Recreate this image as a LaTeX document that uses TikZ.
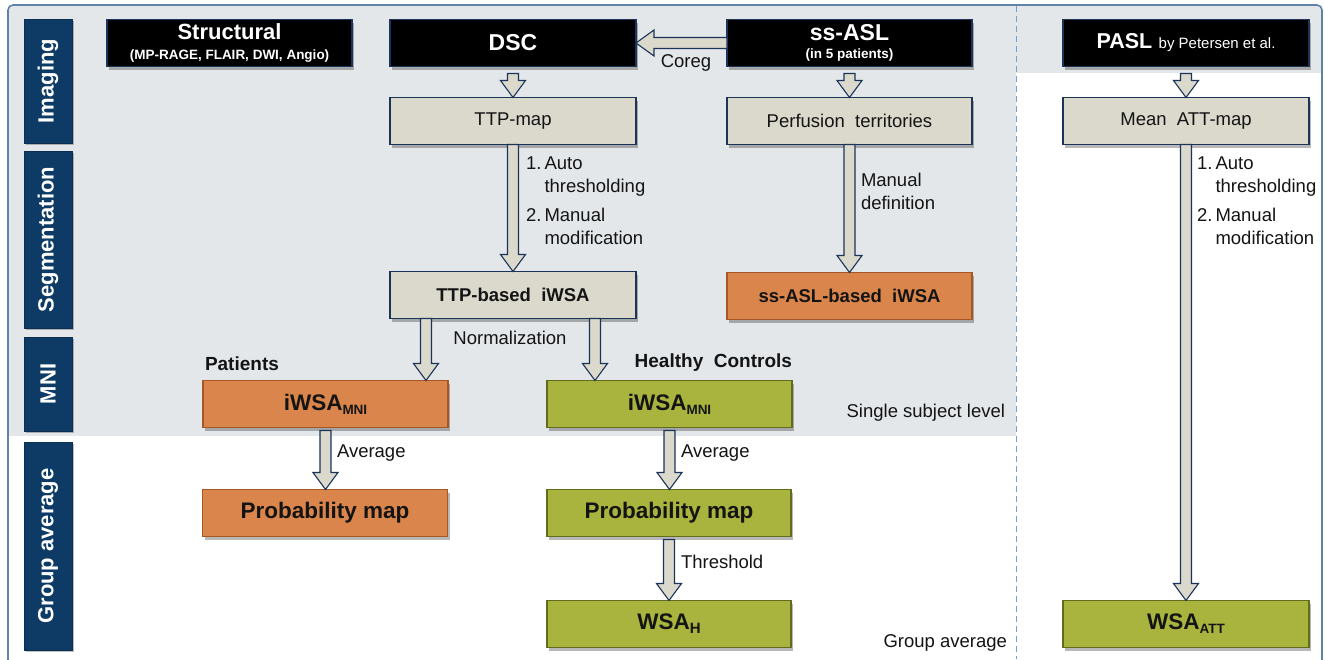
\documentclass[tikz,border=0pt]{standalone}
\usepackage{fontspec}
\setmainfont{Liberation Sans}
\usetikzlibrary{calc,shadows}
\newcommand{\fsz}[1]{\fontsize{#1}{#1}\selectfont}
\definecolor{bggray}{RGB}{228,231,234}
\definecolor{framecol}{RGB}{95,130,170}
\definecolor{dashcol}{RGB}{120,160,205}
\definecolor{sideblue}{RGB}{14,59,102}
\definecolor{navyb}{RGB}{28,52,90}
\definecolor{beige}{RGB}{219,216,204}
\definecolor{orangef}{RGB}{218,133,76}
\definecolor{oranged}{RGB}{165,88,38}
\definecolor{greenf}{RGB}{169,180,63}
\definecolor{greend}{RGB}{98,108,28}
\definecolor{txt}{RGB}{20,20,20}
\tikzset{
  box/.style={rectangle, minimum width=246pt, minimum height=47pt, inner sep=0pt, outer sep=0pt,
    line width=1.2pt, text=txt, align=center,
    drop shadow={shadow xshift=2pt, shadow yshift=-3pt, opacity=0.28, fill=black}},
  blackbox/.style={box, fill=black, draw=navyb, text=white, font={\fsz{23}\bfseries}},
  beigebox/.style={box, fill=beige, draw=navyb, font={\fsz{18.5}}},
  beigebold/.style={box, fill=beige, draw=navyb, font={\fsz{18.5}\bfseries}},
  orbox/.style={box, fill=orangef, draw=oranged, font={\fsz{22.5}\bfseries}},
  grbox/.style={box, fill=greenf, draw=greend, font={\fsz{22.5}\bfseries}},
  side/.style={rectangle, fill=sideblue, draw=sideblue!80!black, line width=0.6pt, minimum height=48pt, inner sep=0pt,
    text=white, font={\fsz{22}\bfseries}, rotate=90,
    drop shadow={shadow xshift=2pt, shadow yshift=-2pt, opacity=0.25, fill=black}},
  lbl/.style={inner sep=0pt, outer sep=0pt, text=txt, font={\fsz{18.5}}},
  boldlbl/.style={inner sep=0pt, outer sep=0pt, text=txt, font={\fsz{19}\bfseries}},
  barrow/.style={draw=navyb, fill=beige, line width=1.1pt, line join=miter}
}
\newcommand{\vblock}[2]{\path[barrow] let \p1=(#1), \p2=(#2) in
  (\x1-5.5pt,\y1) -- (\x1-5.5pt,\y2+17pt) -- (\x1-12.5pt,\y2+17pt) -- (\x1,\y2)
  -- (\x1+12.5pt,\y2+17pt) -- (\x1+5.5pt,\y2+17pt) -- (\x1+5.5pt,\y1) -- cycle;}
\newcommand{\hblock}[2]{\path[barrow] let \p1=(#1), \p2=(#2) in
  (\x1,\y1+5.5pt) -- (\x2+18pt,\y1+5.5pt) -- (\x2+18pt,\y1+13pt) -- (\x2,\y1)
  -- (\x2+18pt,\y1-13pt) -- (\x2+18pt,\y1-5.5pt) -- (\x1,\y1-5.5pt) -- cycle;}
\begin{document}
\begin{tikzpicture}[x=1pt,y=-1pt]
\useasboundingbox (0,0) rectangle (1325,659);
\fill[white] (0,0) rectangle (1325,659);
% backgrounds
\fill[bggray] (9,6) rectangle (1016,436);
\fill[bggray] (1016,6) rectangle (1321,73);
\draw[framecol, line width=1.6pt, rounded corners=5pt] (8,670) -- (8,5) -- (1322,5) -- (1322,670);
\draw[dashcol, line width=1pt, dash pattern=on 6pt off 4pt] (1016,6) -- (1016,659);

% side labels
\node[side, minimum width=124pt] (simg) at (48,81) {Imaging};
\node[side, minimum width=177pt] (sseg) at (48,239.5) {Segmentation};
\node[side, minimum width=94pt] (smni) at (48,384) {MNI};
\node[side, minimum width=208pt] (sgrp) at (48,546) {Group average};

% imaging row
\node[blackbox, minimum width=245pt] (struct) at (229.5,43) {{\fsz{22}Structural}\\[-3pt]{\fsz{13.5}(MP-RAGE, FLAIR, DWI, Angio)}};
\node[blackbox] (dsc) at (513,43) {DSC};
\node[blackbox, minimum width=245pt] (ssasl) at (849.5,43) {ss-ASL\\[-5pt]{\fsz{13.5}(in 5 patients)}};
\node[blackbox] (pasl) at (1186,43) {{\fsz{21.5}PASL} {\fsz{15}\mdseries by Petersen et al.}};

\node[beigebox] (ttpmap) at (513,121) {TTP-map};
\node[beigebox, minimum width=245pt] (perf) at (849.5,121) {Perfusion\ \ territories};
\node[beigebox] (meanatt) at (1186,121) {Mean\ \ ATT-map};

% segmentation row
\node[beigebold] (ttpiwsa) at (513,295) {TTP-based\ \ iWSA};
\node[orbox, minimum width=245pt, font={\fsz{18.5}\bfseries}] (asliwsa) at (849.5,296) {ss-ASL-based\ \ iWSA};

% MNI row
\node[orbox, minimum width=245pt] (patmni) at (325.5,404) {iWSA{\fsz{13.5}\raisebox{-4pt}{MNI}}};
\node[grbox, minimum width=245pt] (hcmni) at (669.5,404) {iWSA{\fsz{13.5}\raisebox{-4pt}{MNI}}};

% group row
\node[orbox, minimum width=245pt] (patprob) at (325,513) {Probability map};
\node[grbox, minimum width=244pt] (hcprob) at (669,513) {Probability map};
\node[grbox, minimum width=244pt] (wsah) at (669,624) {WSA{\fsz{15}\raisebox{-4pt}{H}}};
\node[grbox] (wsaatt) at (1186,624) {WSA{\fsz{13.5}\raisebox{-4pt}{ATT}}};

% arrows
\hblock{ssasl.west}{dsc.east}
\vblock{$(dsc.south)+(0,7)$}{ttpmap.north}
\vblock{$(ssasl.south)+(0,7)$}{perf.north}
\vblock{$(pasl.south)+(0,7)$}{meanatt.north}
\vblock{ttpmap.south}{ttpiwsa.north}
\vblock{perf.south}{asliwsa.north}
\vblock{meanatt.south}{wsaatt.north}
\vblock{$(ttpiwsa.south west)+(36,0)$}{patmni.north}
\vblock{$(ttpiwsa.south west)+(205,0)$}{hcmni.north}
\vblock{$(patmni.south)+(0,3)$}{patprob.north}
\vblock{$(hcmni.south)+(0,3)$}{hcprob.north}
\vblock{$(hcprob.south)+(0,3)$}{wsah.north}

% labels
\node[lbl] (coreg) at (686,63) {Coreg};
\node[lbl, anchor=north west] (ttplbl) at (526,153) {\fontsize{18.5}{23}\selectfont\begin{tabular}{@{}l@{\,}l@{}}1. & Auto\\ & thresholding\\[6pt] 2. & Manual\\ & modification\end{tabular}};
\node[lbl, anchor=north west, align=left, font={\fontsize{18.5}{23}\selectfont}] (perflbl) at (861,173) {Manual\\definition};
\node[lbl, anchor=north west] (attlbl) at (1197,153) {\fontsize{18.5}{23}\selectfont\begin{tabular}{@{}l@{\,}l@{}}1. & Auto\\ & thresholding\\[6pt] 2. & Manual\\ & modification\end{tabular}};
\node[lbl] (norm) at (510,338) {Normalization};
\node[boldlbl, anchor=west] (pat) at (205,364) {Patients};
\node[boldlbl, anchor=east] (hc) at (792,363) {Healthy\ \ Controls};
\node[lbl, anchor=west] (avg1) at (337,453) {Average};
\node[lbl, anchor=west] (avg2) at (681,453) {Average};
\node[lbl, anchor=west] (thr) at (681,562) {Threshold};
\node[lbl, anchor=east] (ssl) at (1005,413) {Single subject level};
\node[lbl, anchor=east] (grp) at (1007,643) {Group average};
\end{tikzpicture}
\end{document}
